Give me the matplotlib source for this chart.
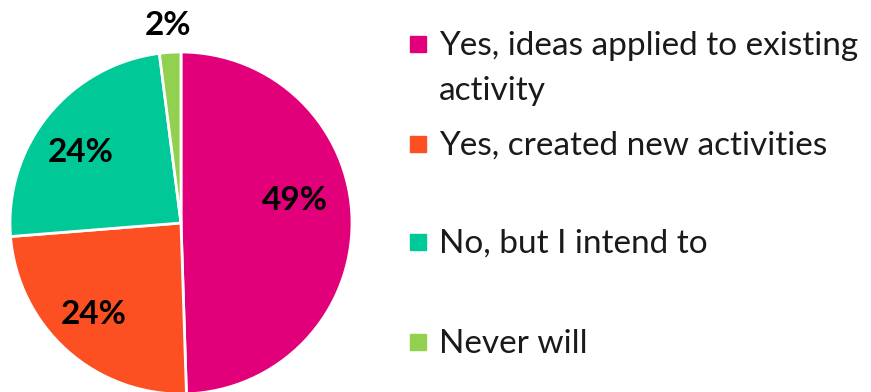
import matplotlib.pyplot as plt
import matplotlib.patches as mpatches
import numpy as np

# --- DATA ---
answers = ["Yes, ideas applied to existing\nactivity",
           "Yes, created new activities",
           "No, but I intend to",
           "Never will"]
shares = [49, 24, 24, 2]
colors = ["#E2007A", "#FC4F22", "#00C896", "#92D050"]

# label placement: (radius factor, angle shift in degrees) per slice
label_pos = [(0.68, 10), (0.74, -2), (0.72, 4), (1.16, 0)]

plt.rcParams['font.family'] = ['Lato', 'DejaVu Sans']

W, H = 871, 392
fig = plt.figure(figsize=(W / 100, H / 100), dpi=100)

# pie centre / radius in pixels
cx, cy, r = 181, 223, 171
ax = fig.add_axes([(cx - r) / W, (H - cy - r) / H, 2 * r / W, 2 * r / H])
wedges, _ = ax.pie(shares, colors=colors, startangle=90, counterclock=False,
                   radius=1, wedgeprops=dict(edgecolor="white", linewidth=2))
ax.set_xlim(-1, 1)
ax.set_ylim(-1, 1)
ax.set_aspect("equal")
ax.axis("off")

for w, v, (rf, dth) in zip(wedges, shares, label_pos):
    mid = np.deg2rad((w.theta1 + w.theta2) / 2 + dth)
    ax.text(rf * np.cos(mid), rf * np.sin(mid), f"{v}%", ha="center", va="center",
            fontsize=24, fontweight="bold", color="black")

# legend drawn in pixel coordinates (y = baseline of first line)
lax = fig.add_axes([0, 0, 1, 1])
lax.set_xlim(0, W)
lax.set_ylim(H, 0)
lax.axis("off")
leg_y = [55, 155, 253, 353]
for y, lab, c in zip(leg_y, answers, colors):
    lax.add_patch(mpatches.Rectangle((410, y - 19), 16, 16, color=c))
    for k, line in enumerate(lab.split("\n")):
        lax.text(439, y + 45 * k, line, ha="left", va="baseline",
                 fontsize=24, color="#1a1a1a")

fig.savefig("out.png", dpi=100)
